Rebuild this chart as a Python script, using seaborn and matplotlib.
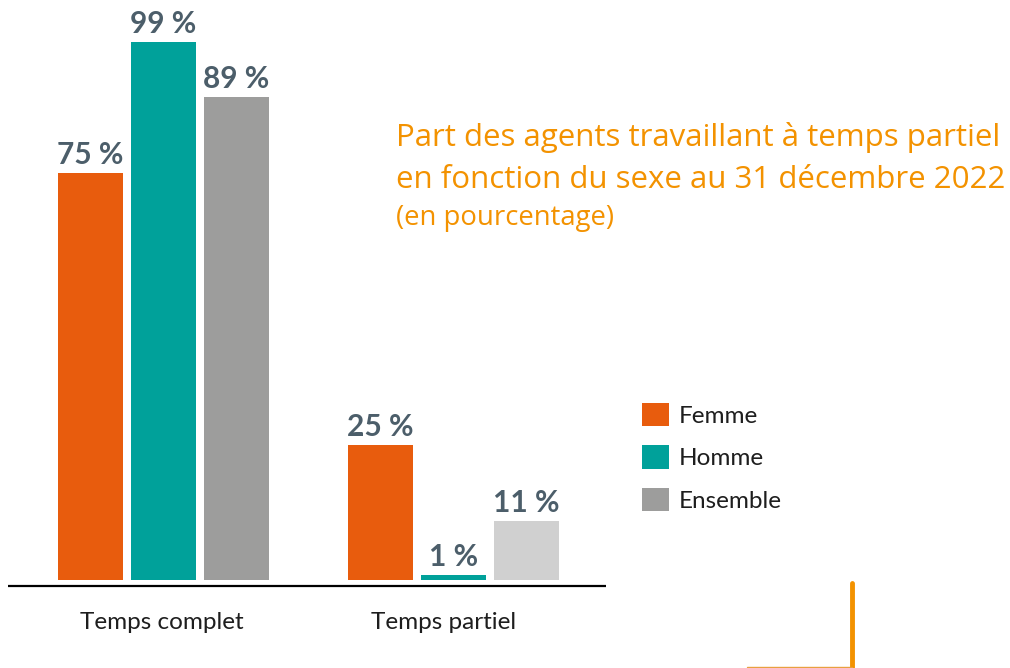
import matplotlib
matplotlib.use("Agg")
import matplotlib.pyplot as plt
from matplotlib.patches import Patch
from matplotlib.lines import Line2D
import seaborn as sns
import pandas as pd

# ---- data ----
categories = ["Temps complet", "Temps partiel"]
series = ["Femme", "Homme", "Ensemble"]
femme = [75, 25]
homme = [99, 1]
ensemble = [89, 11]

title_lines = ["Part des agents travaillant à temps partiel",
               "en fonction du sexe au 31 décembre 2022"]
subtitle = "(en pourcentage)"

# ---- styles ----
colors = {"Femme": "#E85C0D", "Homme": "#00A19A", "Ensemble": "#9D9D9C"}
light_gray = "#D0D0D0"
label_color = "#4C5E6A"
title_color = "#F39200"
text_color = "#1E1E1E"

sns.set_theme(style="white")
plt.rcParams["font.family"] = ["Lato", "DejaVu Sans"]

df = pd.DataFrame({
    "categorie": categories * 3,
    "serie": [s for s in series for _ in categories],
    "valeur": femme + homme + ensemble,
})

W, H = 1010, 668
fig = plt.figure(figsize=(W / 100, H / 100), dpi=100)
ax = fig.add_axes([8 / W, (H - 590) / H, (606 - 8) / W, (590 - 30) / H])

sns.barplot(data=df, x="categorie", y="valeur", hue="serie",
            order=categories, hue_order=series, palette=colors,
            width=0.755, gap=0.1, saturation=1, legend=False, ax=ax,
            edgecolor="none", linewidth=0)

# lighter grey for the 'Ensemble' bar of the part-time group
ax.containers[2][1].set_facecolor(light_gray)

for cont in ax.containers:
    for bar in cont:
        h = bar.get_height()
        ax.annotate(f"{h:.0f} %", xy=(bar.get_x() + bar.get_width() / 2, h),
                    xytext=(0, 6.5), textcoords="offset points",
                    ha="center", va="baseline", fontsize=21.5,
                    fontweight="bold", color=label_color)

ax.set_xlim(-0.536, 1.526)
ax.set_ylim(-1.75, 101.3)
ax.axhline(-1.0, color="#000000", lw=1.6)
for s in ax.spines.values():
    s.set_visible(False)
ax.set_yticks([])
ax.set_xlabel("")
ax.set_ylabel("")
ax.set_xticks([0 - 2 / 290, 1 - 10 / 290])
ax.set_xticklabels(categories, fontsize=17.5, color=text_color)
ax.tick_params(axis="x", length=0, pad=16)

handles = [Patch(facecolor=colors[s], edgecolor="none") for s in series]
fig.legend(handles, series, loc="upper left",
           bbox_to_anchor=(642 / W, 1 - 403 / H), frameon=False,
           borderpad=0, borderaxespad=0, handlelength=1.1, handleheight=1.1,
           handletextpad=0.4, labelspacing=0.76, fontsize=17.5,
           labelcolor=text_color)

tfont = ["Open Sans", "DejaVu Sans"]
fig.text(396 / W, 1 - 146 / H, title_lines[0], fontsize=22.5, color=title_color,
         ha="left", va="baseline", family=tfont)
fig.text(396 / W, 1 - 188 / H, title_lines[1], fontsize=22.5, color=title_color,
         ha="left", va="baseline", family=tfont)
fig.text(396 / W, 1 - 225 / H, subtitle, fontsize=19.8, color=title_color,
         ha="left", va="baseline", family=tfont)

# decorative corner lines
fig.add_artist(Line2D([852 / W, 852 / W], [0, 1 - 583 / H],
                      color=title_color, lw=3.5, transform=fig.transFigure))
fig.add_artist(Line2D([747 / W, 852 / W], [1 - 667 / H, 1 - 667 / H],
                      color="#E8A040", lw=1, transform=fig.transFigure))

fig.savefig("out.png", dpi=100, facecolor="white")
